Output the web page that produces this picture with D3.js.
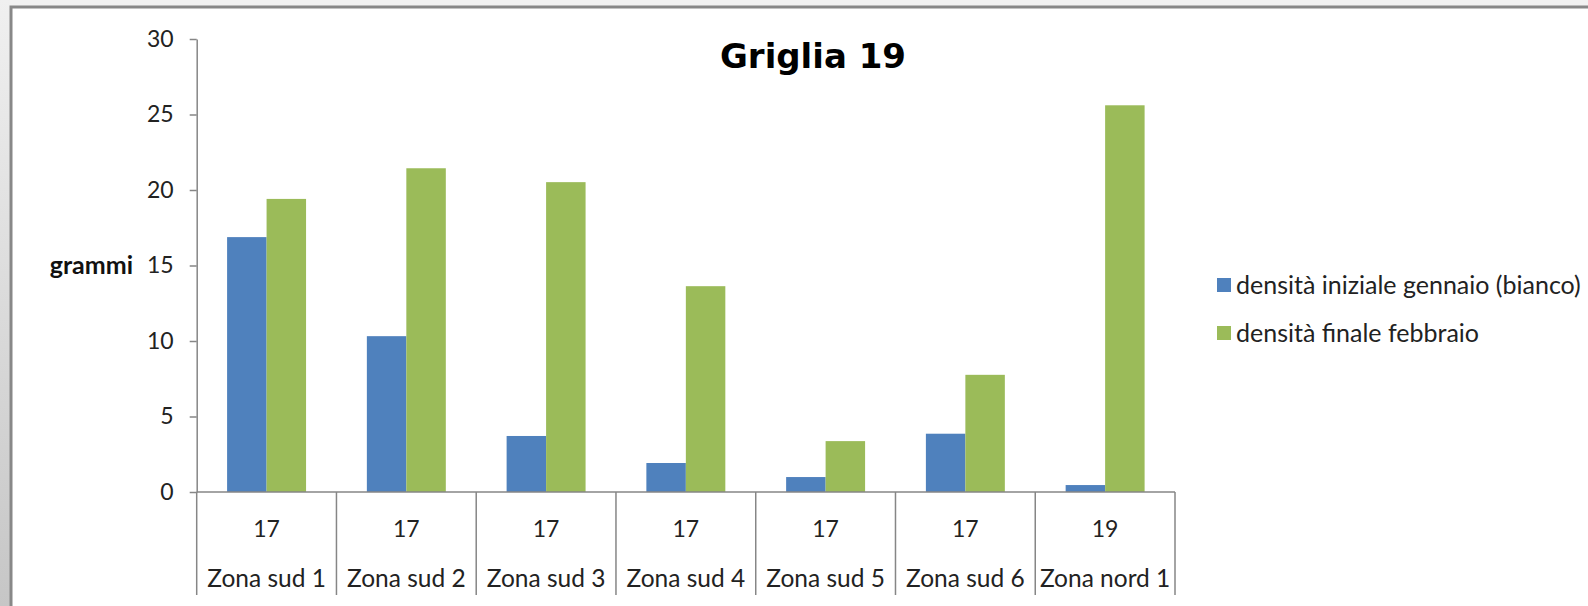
<!DOCTYPE html>
<html>
<head>
<meta charset="utf-8">
<script src="https://cdn.jsdelivr.net/npm/d3@7"></script>
<style>
  body { margin: 0; background: #f2f2f2; }
  svg { display: block; font-family: Lato, "Open Sans", sans-serif; }
</style>
</head>
<body>
<script>
// data
const zone = ["Zona sud 1", "Zona sud 2", "Zona sud 3", "Zona sud 4", "Zona sud 5", "Zona sud 6", "Zona nord 1"];
const griglia = ["17", "17", "17", "17", "17", "17", "19"];
const series = ["densità iniziale gennaio (bianco)", "densità finale febbraio"];
const iniziale = [16.88, 10.32, 3.71, 1.92, 0.99, 3.86, 0.46];
const finale = [19.41, 21.44, 20.52, 13.63, 3.37, 7.76, 25.61];
const yTicks = [0, 5, 10, 15, 20, 25, 30];
const colors = ["#4F81BD", "#9BBB59"];

const width = 1588, height = 606;
const axisColor = "#868686";

const svg = d3.select("body").append("svg")
    .attr("width", width)
    .attr("height", height);

// window frame around the chart
const grad = svg.append("defs").append("linearGradient")
    .attr("id", "side").attr("x1", 0).attr("y1", 0).attr("x2", 0).attr("y2", 1);
grad.append("stop").attr("offset", "0%").attr("stop-color", "#f0f0f0");
grad.append("stop").attr("offset", "100%").attr("stop-color", "#c6c6c6");

svg.append("rect").attr("width", width).attr("height", height).attr("fill", "#f2f2f2");
svg.append("rect").attr("x", 0).attr("y", 0).attr("width", 10).attr("height", height).attr("fill", "url(#side)");
svg.append("rect")
    .attr("x", 11).attr("y", 7)
    .attr("width", width + 20).attr("height", height + 20)
    .attr("fill", "white")
    .attr("stroke", "#888").attr("stroke-width", 3);

// scales
const x = d3.scaleBand().domain(zone).range([196.7, 1175]).padding(0);
const xs = d3.scaleBand().domain(series).range([0, x.bandwidth()]).paddingInner(0).paddingOuter(0.77);
const y = d3.scaleLinear().domain([0, 30]).range([492, 39]);

const rows = zone.map((z, i) => ({ zone: z, values: [iniziale[i], finale[i]] }));

// bars
const groups = svg.append("g").selectAll("g")
    .data(rows)
    .join("g")
    .attr("transform", d => "translate(" + x(d.zone) + ",0)");

groups.selectAll("rect")
    .data(d => d.values.map((v, k) => ({ key: series[k], value: v, k: k })))
    .join("rect")
    .attr("x", d => xs(d.key))
    .attr("width", xs.bandwidth())
    .attr("y", d => y(d.value))
    .attr("height", d => y(0) - y(d.value))
    .attr("fill", d => colors[d.k]);

// y axis
const yAxis = svg.append("g")
    .attr("transform", "translate(196.7,0)")
    .call(d3.axisLeft(y).tickValues(yTicks).tickSize(7).tickSizeOuter(0).tickPadding(16));
yAxis.select(".domain").attr("stroke", axisColor).attr("stroke-width", 1.5);
yAxis.selectAll(".tick line").attr("stroke", axisColor).attr("stroke-width", 1.5);
yAxis.selectAll(".tick text")
    .attr("fill", "#222")
    .style("font-size", "23px")
    .style("font-family", "Lato, sans-serif");

// x axis with two label rows
const xAxis = svg.append("g");
xAxis.append("line")
    .attr("x1", x.range()[0]).attr("x2", x.range()[1])
    .attr("y1", y(0)).attr("y2", y(0))
    .attr("stroke", axisColor).attr("stroke-width", 1.5);

const bounds = zone.map(z => x(z)).concat([x.range()[1]]);
xAxis.selectAll(".sep")
    .data(bounds)
    .join("line")
    .attr("class", "sep")
    .attr("x1", d => d).attr("x2", d => d)
    .attr("y1", y(0)).attr("y2", 595)
    .attr("stroke", axisColor).attr("stroke-width", 1.5);

xAxis.selectAll(".grg")
    .data(zone)
    .join("text")
    .attr("class", "grg")
    .attr("x", d => x(d) + x.bandwidth() / 2)
    .attr("y", 537)
    .attr("text-anchor", "middle")
    .attr("fill", "#222")
    .style("font-size", "23px")
    .text((d, i) => griglia[i]);

xAxis.selectAll(".zn")
    .data(zone)
    .join("text")
    .attr("class", "zn")
    .attr("x", d => x(d) + x.bandwidth() / 2)
    .attr("y", 587)
    .attr("text-anchor", "middle")
    .attr("fill", "#222")
    .style("font-size", "24.5px")
    .text(d => d);

// axis title
svg.append("text")
    .attr("x", 133)
    .attr("y", y(15))
    .attr("dy", "0.35em")
    .attr("text-anchor", "end")
    .attr("fill", "#111")
    .style("font-size", "25px")
    .style("font-weight", "bold")
    .text("grammi");

// chart title
svg.append("text")
    .attr("x", 813)
    .attr("y", 68)
    .attr("text-anchor", "middle")
    .attr("fill", "#000")
    .style("font-family", "'DejaVu Sans', sans-serif")
    .style("font-size", "34px")
    .style("font-weight", "bold")
    .text("Griglia 19");

// legend
const legend = svg.append("g").attr("transform", "translate(1217,285)");
const item = legend.selectAll("g")
    .data(series)
    .join("g")
    .attr("transform", (d, i) => "translate(0," + (i * 48) + ")");
item.append("rect")
    .attr("x", 0).attr("y", -7)
    .attr("width", 14).attr("height", 14)
    .attr("fill", (d, i) => colors[i]);
item.append("text")
    .attr("x", 19)
    .attr("dy", "0.35em")
    .attr("fill", "#222")
    .style("font-size", "25px")
    .text(d => d);
</script>
</body>
</html>
